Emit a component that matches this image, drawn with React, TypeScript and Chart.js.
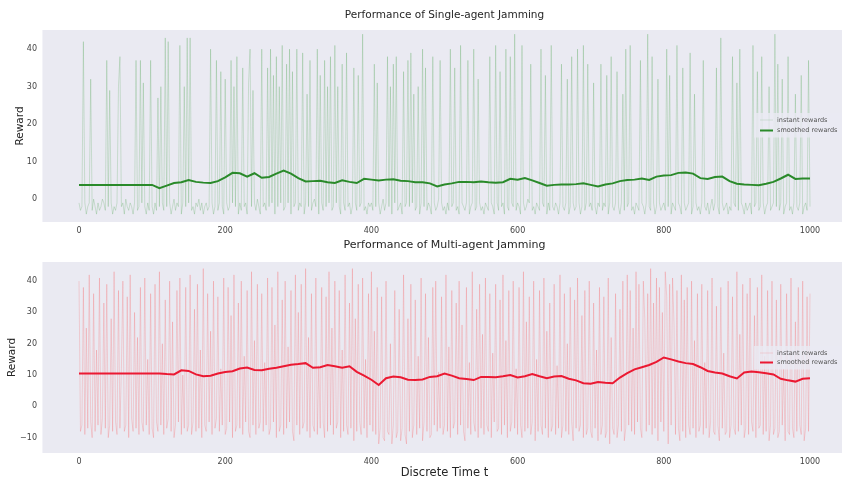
import React, { useEffect, useRef } from "react";
import { Chart, registerables } from "chart.js";

Chart.register(...registerables);

// time step between stored samples
const instantStep = 2;
const smoothStep = 10;

// Single-agent jamming: instant rewards (t = 0, 2, 4, ..., 1000)
const singleInstant = [
  -1,-3,-2,42,-1,-4,-2,-1,32,-3,0,-2,-4,-1,-3,-2,0,-1,-3,37,-2,29,-1,-4,-2,
  -3,-1,30,38,-2,-1,-4,0,-2,-3,-1,-2,-4,-1,37,-3,-2,37,-1,31,-2,-4,-1,-3,37,
  -2,-4,-1,-3,27,-2,30,-1,-3,43,-2,42,-1,-4,-2,0,-3,-1,-2,41,-4,-1,30,-2,43,
  -1,43,-3,-2,-4,-1,-2,0,-3,-1,-4,-2,-1,-3,-2,40,-1,-4,-2,37,-3,-1,34,-2,-4,
  32,-1,-3,-2,37,-1,30,-2,38,-4,-1,-3,35,-2,-1,-4,31,40,-2,29,-1,-3,0,-2,-4,
  40,-2,-1,-3,35,-2,40,-1,33,-4,38,-2,30,-1,41,-3,-2,36,-1,40,-4,34,-2,-1,40,
  -3,-1,-2,39,-4,-1,28,-2,37,-3,-1,0,-2,40,-4,33,-1,-3,37,-2,30,-1,38,-3,-2,
  41,-1,30,-2,-4,36,-1,-3,39,-2,-1,-4,-2,35,-1,-3,33,-2,-1,44,-3,-2,-4,-1,-2,
  -1,-3,36,-2,31,-1,-4,-2,0,-3,-1,38,-2,30,-4,36,-1,38,-3,-2,-1,-4,34,-2,-1,
  37,-2,39,-1,28,-3,-2,30,-4,-1,40,-2,35,-3,-1,-2,-4,38,-1,-3,-2,0,37,-1,-3,
  -2,-4,-1,-3,40,-2,-1,35,-3,-2,-4,41,-1,-2,-3,-1,37,-4,-2,-1,40,-3,-2,32,-1,
  -3,-2,-4,-1,-2,-3,38,-1,-2,-4,41,-1,-3,34,-2,-1,-4,40,-2,-3,38,-1,-2,44,-3,
  -1,-2,-4,41,-1,-3,-2,0,-1,36,-3,-2,-4,-1,-2,-3,40,-1,-2,33,-4,-1,-3,41,-2,
  -3,-1,-2,-4,-1,36,-2,-3,-1,32,-4,-2,38,-1,-3,-2,40,-1,-4,-2,41,-3,-1,36,-2,
  -1,-3,31,-2,-4,-1,-2,36,-3,-1,-2,33,-4,-1,38,-2,-3,-1,34,-2,-4,-1,28,-3,40,
  -2,-1,41,-3,-2,-4,-1,-2,-3,37,-1,-2,-4,-1,44,-2,-3,38,-1,-4,-2,32,-1,-3,-2,
  -1,-3,40,-2,33,-4,-1,-2,-3,41,-1,-2,-4,35,-1,-3,-2,-1,39,-4,-2,28,-1,-3,-2,
  -4,-1,37,-2,-3,-1,-4,-2,0,-3,-1,35,-2,-4,43,-1,-3,-2,-1,-4,-2,-3,38,-1,-2,
  31,-3,40,-1,-2,-4,-1,-3,-2,-1,-4,41,-2,-1,34,-3,-2,38,-1,-4,-2,-1,30,-3,-2,
  -1,44,-2,36,-3,-1,32,-4,-2,-1,38,-3,-2,-4,-1,28,-2,-3,-1,33,-4,-2,-1,-3,37,
  -2,
];

// Single-agent jamming: smoothed rewards (t = 0, 10, ..., 1000)
const singleSmoothed = [
  3.8,3.8,3.8,3.8,3.8,3.8,3.8,3.8,3.8,3.8,3.8,
  2.9,3.6,4.3,4.5,5.1, 4.6,4.4,4.3,4.8,5.8, 7.0,6.9,6.0,6.9,5.7, 5.9,6.8,7.6,6.8,5.6,
  4.7,4.8,4.9,4.5,4.3, 5.0,4.6,4.3,5.4,5.2, 5.0,5.2,5.3,4.9,4.8, 4.5,4.5,4.2,3.4,3.9,
  4.2,4.6,4.6,4.5,4.7, 4.5,4.4,4.5,5.4,5.2, 5.6,5.0,4.3,3.6,3.8, 3.9,3.9,4.0,4.2,3.8,
  3.4,3.9,4.2,4.8,5.1, 5.2,5.5,5.1,6.0,6.3, 6.4,7.0,7.1,6.8,5.6, 5.4,5.9,6.0,4.8,4.1,
  3.9,3.8,3.7,4.1,4.6, 5.5,6.5,5.4,5.5,5.5,
];

// Multi-agent jamming: instant rewards (t = 0, 2, 4, ..., 1000)
const multiInstant = [
  40,-8,-6,38,-9,25,-7,42,-5,-10,36,-8,18,-6,41,-9,-4,33,-7,39,-10,-6,28,-8,43,
  -5,-9,37,-7,12,40,-8,-6,35,-10,42,-4,-8,30,-7,22,-9,38,-5,-8,41,-6,15,-9,36,
  -7,-10,39,-5,-8,43,-6,20,-9,34,-7,-4,40,-8,27,-10,-6,37,-5,41,-9,10,-7,38,-8,
  -6,42,-9,-5,31,-8,39,-7,18,-10,44,-6,-8,36,-5,24,-9,40,-7,-4,35,-8,12,-6,41,
  -9,-7,38,-5,29,-10,42,-8,-6,33,-7,40,-9,16,-5,37,-8,-10,43,-6,21,-9,39,-7,-5,
  36,-8,14,-6,41,-9,-7,38,-5,26,-10,43,-8,-6,34,-9,40,-7,19,-5,37,-8,-11,42,-6,
  30,-9,39,-7,-5,44,-8,22,-10,36,-6,-8,41,-9,13,-7,38,-5,-10,35,-8,43,-6,25,-9,
  40,-7,-5,37,-10,18,-8,42,-6,-9,33,-7,44,-11,28,-8,39,-5,-9,41,-7,15,-10,36,-6,
  43,-8,24,-9,38,-12,-7,35,-10,-11,40,-8,-9,20,-12,-6,37,-10,-8,31,-11,-7,42,-9,-12,
  28,-8,39,-10,-6,34,-9,16,-7,41,-11,-5,36,-8,22,-10,-9,38,-6,40,-8,11,-7,35,-9,
  -6,42,-8,19,-10,37,-7,-5,33,-9,40,-6,26,-8,-11,38,-7,14,-9,43,-5,-8,31,-10,39,
  -7,23,-9,41,-6,-8,36,-10,17,-5,39,-8,-7,34,-9,42,-6,21,-10,37,-8,-5,40,-7,12,
  -9,38,-6,-10,43,-8,27,-7,35,-9,-5,40,-11,15,-8,37,-6,-9,41,-7,24,-10,33,-8,-6,
  39,-9,13,-7,42,-10,-6,36,-8,20,-9,38,-5,-11,34,-7,41,-8,-6,29,-10,37,-9,-7,40,
  -8,-10,33,-7,18,-11,38,-9,-6,35,-10,-8,41,-12,22,-7,-9,36,-10,-6,31,-8,40,-11,-7,
  42,-6,37,-8,25,-9,43,-5,39,-7,-10,40,28,-8,36,-6,44,-9,33,-7,41,-11,38,-5,30,
  -8,43,35,-12,39,-6,41,26,-9,37,-7,-11,42,-8,34,-10,38,-6,-9,40,-7,21,-10,36,-8,
  -6,39,-9,14,-7,37,-10,-5,41,-8,-9,32,-6,-11,38,-7,17,-9,-8,40,-10,-6,35,-7,-9,
  43,-8,23,-6,39,-10,-7,36,-9,41,-5,-8,29,-10,38,-7,-6,42,-9,16,-8,37,-11,-6,40,
  -9,-7,34,-10,-8,39,-6,12,-11,36,-8,-9,41,-7,-10,27,-8,38,-6,-9,40,-11,-7,35,-8,
  36,
];

// Multi-agent jamming: smoothed rewards (t = 0, 10, ..., 1000)
const multiSmoothed = [
  10.5,10.5,10.5,10.5,10.5,10.5,10.5,10.5,10.5,10.5,10.5,
  10.5,10.3,10.2,11.5,11.3, 10.2,9.6,9.8,10.5,11.0, 11.2,12.1,12.4,11.6,11.5, 12.0,12.3,12.8,13.3,13.5,
  13.8,12.3,12.5,13.2,12.8, 12.3,12.8,11.0,9.8,8.5, 6.8,9.0,9.5,9.3,8.5, 8.4,8.6,9.4,9.6,10.5,
  9.8,9.0,8.7,8.4,9.4, 9.4,9.3,9.6,10.0,9.2, 9.6,10.3,9.6,9.0,9.5, 9.7,8.8,8.3,7.4,7.2,
  7.8,7.5,7.4,9.2,10.6, 11.8,12.5,13.2,14.2,15.6, 15.0,14.3,13.8,13.5,12.5, 11.3,10.8,10.5,9.6,8.9,
  10.8,11.1,10.9,10.6,10.2, 8.8,8.3,7.9,8.8,9.0,
];

const xTicks = [0, 200, 400, 600, 800, 1000];
const singleYTicks = [0, 10, 20, 30, 40];
const multiYTicks = [-10, 0, 10, 20, 30, 40];
const seriesLabels = ["instant rewards", "smoothed rewards"];

const FONT = "'DejaVu Sans', 'Liberation Sans', sans-serif";
const TEXT = "#262626";
const TICK = "#444444";

const plotBg = {
  id: "plotBg",
  beforeDraw(chart: any) {
    const { ctx, chartArea: a } = chart;
    ctx.save();
    ctx.fillStyle = "#eaeaf2";
    ctx.fillRect(a.left, a.top, a.right - a.left, a.bottom - a.top);
    ctx.restore();
  },
};

const rewardLegend = {
  id: "rewardLegend",
  afterDatasetsDraw(chart: any, _args: any, opts: any) {
    const { ctx } = chart;
    ctx.save();
    ctx.fillStyle = "rgba(234,234,242,0.8)";
    ctx.fillRect(opts.x - 6, opts.y - 7, 100, opts.gap + 14);
    chart.data.datasets.forEach((ds: any, i: number) => {
      const y = opts.y + i * opts.gap;
      ctx.strokeStyle = ds.legendColor || ds.borderColor;
      ctx.lineWidth = ds.borderWidth;
      ctx.beginPath();
      ctx.moveTo(opts.x, y);
      ctx.lineTo(opts.x + 13, y);
      ctx.stroke();
      ctx.fillStyle = "#555555";
      ctx.font = `6.5px ${FONT}`;
      ctx.textBaseline = "middle";
      ctx.textAlign = "left";
      ctx.fillText(ds.label, opts.x + 17, y);
    });
    ctx.restore();
  },
};

type Panel = {
  title: string;
  titleSize: number;
  titlePad: { top: number; bottom: number };
  instant: number[];
  smoothed: number[];
  instantColor: string;
  instantLegend: string;
  smoothColor: string;
  yMin: number;
  yMax: number;
  yTicks: number[];
  yTitlePad: number;
  xAxisHeight: number;
  xTitle: string | null;
  legend: { x: number; y: number; gap: number };
};

const singlePanel: Panel = {
  title: "Performance of Single-agent Jamming",
  titleSize: 10.5,
  titlePad: { top: 9, bottom: 8.4 },
  instant: singleInstant,
  smoothed: singleSmoothed,
  instantColor: "rgba(0,128,0,0.2)",
  instantLegend: "rgba(0,128,0,0.15)",
  smoothColor: "#2a8a2a",
  yMin: -6.1,
  yMax: 45.1,
  yTicks: singleYTicks,
  yTitlePad: 13.7,
  xAxisHeight: 18,
  xTitle: null,
  legend: { x: 760, y: 120, gap: 10.5 },
};

const multiPanel: Panel = {
  title: "Performance of Multi-agent Jamming",
  titleSize: 11,
  titlePad: { top: 3, bottom: 9.8 },
  instant: multiInstant,
  smoothed: multiSmoothed,
  instantColor: "rgba(255,0,0,0.18)",
  instantLegend: "rgba(255,0,0,0.15)",
  smoothColor: "rgb(235,25,50)",
  yMin: -14.9,
  yMax: 46.1,
  yTicks: multiYTicks,
  yTitlePad: 6.2,
  xAxisHeight: 27,
  xTitle: "Discrete Time t",
  legend: { x: 760, y: 117, gap: 9.5 },
};

function makeConfig(p: Panel): any {
  return {
    type: "line",
    data: {
      datasets: [
        {
          label: seriesLabels[0],
          data: p.instant.map((v, i) => ({ x: i * instantStep, y: v })),
          borderColor: p.instantColor,
          legendColor: p.instantLegend,
          borderWidth: 0.8,
          borderJoinStyle: "bevel",
          pointRadius: 0,
          tension: 0,
          order: 1,
        },
        {
          label: seriesLabels[1],
          data: p.smoothed.map((v, i) => ({ x: i * smoothStep, y: v })),
          borderColor: p.smoothColor,
          borderWidth: 2,
          pointRadius: 0,
          tension: 0,
          order: 0,
        },
      ],
    },
    options: {
      animation: false,
      responsive: false,
      maintainAspectRatio: false,
      events: [],
      layout: { padding: { left: 0, right: 3.45, top: 0, bottom: 0 } },
      plugins: {
        legend: { display: false },
        tooltip: { enabled: false },
        title: {
          display: true,
          text: p.title,
          fullSize: false,
          color: TEXT,
          font: { family: FONT, size: p.titleSize, weight: "normal", lineHeight: 1.2 },
          padding: p.titlePad,
        },
        rewardLegend: p.legend,
      },
      scales: {
        x: {
          type: "linear",
          min: -50,
          max: 1050,
          grid: { display: false, drawTicks: false },
          border: { display: false },
          ticks: {
            color: TICK,
            padding: 4.2,
            maxRotation: 0,
            autoSkip: false,
            font: { family: FONT, size: 8, lineHeight: 1.2 },
            callback: (v: any) => String(v),
          },
          afterBuildTicks: (s: any) => {
            s.ticks = xTicks.map((v) => ({ value: v }));
          },
          afterFit: (s: any) => {
            s.height = p.xAxisHeight;
          },
          title: {
            display: !!p.xTitle,
            text: p.xTitle || "",
            color: TEXT,
            padding: { top: 0, bottom: 0.1 },
            font: { family: FONT, size: 11.5, lineHeight: 1.2 },
          },
        },
        y: {
          type: "linear",
          min: p.yMin,
          max: p.yMax,
          grid: { display: false, drawTicks: false },
          border: { display: false },
          ticks: {
            color: TICK,
            padding: 5.45,
            autoSkip: false,
            font: { family: FONT, size: 8, lineHeight: 1.2 },
            callback: (v: any) => String(v).replace("-", "\u2212"),
          },
          afterBuildTicks: (s: any) => {
            s.ticks = p.yTicks.map((v) => ({ value: v }));
          },
          afterFit: (s: any) => {
            s.width = 42.45;
          },
          title: {
            display: true,
            text: "Reward",
            color: TEXT,
            padding: { top: p.yTitlePad, bottom: 0 },
            font: { family: FONT, size: 10.5, lineHeight: 1.2 },
          },
        },
      },
    },
    plugins: [plotBg, rewardLegend],
  };
}

export default function App() {
  const topRef = useRef<HTMLCanvasElement>(null);
  const botRef = useRef<HTMLCanvasElement>(null);

  useEffect(() => {
    const c1 = new Chart(topRef.current as HTMLCanvasElement, makeConfig(singlePanel));
    const c2 = new Chart(botRef.current as HTMLCanvasElement, makeConfig(multiPanel));
    return () => {
      c1.destroy();
      c2.destroy();
    };
  }, []);

  return (
    <div
      style={{
        position: "fixed",
        left: 0,
        top: 0,
        width: 842,
        height: 480,
        overflow: "hidden",
        background: "#ffffff",
      }}
    >
      <canvas
        ref={topRef}
        width={850}
        height={240}
        style={{ position: "absolute", left: 0, top: 0, width: 850, height: 240 }}
      />
      <canvas
        ref={botRef}
        width={850}
        height={244}
        style={{ position: "absolute", left: 0, top: 236, width: 850, height: 244 }}
      />
    </div>
  );
}
